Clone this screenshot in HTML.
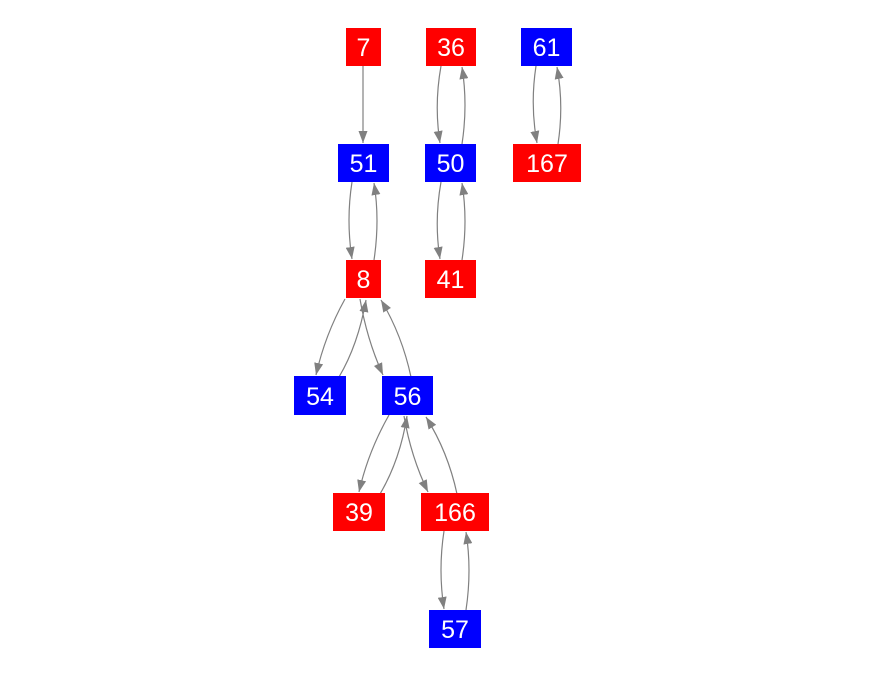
<!DOCTYPE html>
<html><head><style>
body{margin:0;background:#fff;}
svg{display:block;}
text{font-family:"Liberation Sans",Arial,sans-serif;font-size:25px;fill:#fff;text-anchor:middle;}
</style></head><body>
<svg width="875" height="675" viewBox="0 0 875 675" xmlns="http://www.w3.org/2000/svg">
<defs>
<marker id="a" viewBox="0 0 12 9" refX="12" refY="4.5" markerWidth="12" markerHeight="9" markerUnits="userSpaceOnUse" orient="auto">
<path d="M0,0 L12,4.5 L0,9 z" fill="#808080"/>
</marker>
</defs>
<g fill="none" stroke="#808080" stroke-width="1.2" marker-end="url(#a)">
<path d="M363,66 L363,143"/>
<path d="M352,182 Q346,220 352,259"/>
<path d="M374,260 Q380,220 374,183"/>
<path d="M441,66 Q434,105 440,143"/>
<path d="M462,144 Q468,105 462,67"/>
<path d="M441,182 Q434,221 440,259"/>
<path d="M462,260 Q468,221 462,183"/>
<path d="M536,66 Q530,105 537,143"/>
<path d="M558,144 Q564,105 557,67"/>
<path d="M345,299 Q325,335 316,375"/>
<path d="M339,377 Q358,345 366,300"/>
<path d="M360,299 Q367,340 383,375"/>
<path d="M411,377 Q402,335 381,300"/>
<path d="M389,415 Q368,452 359,492"/>
<path d="M380,494 Q400,460 407,416"/>
<path d="M404,416 Q411,457 428,492"/>
<path d="M457,494 Q448,452 426,417"/>
<path d="M444,531 Q438,570 444,609"/>
<path d="M466,610 Q472,570 466,532"/>
</g>
<g>
<rect x="346" y="28" width="35" height="38" fill="#f00"/><text x="363.5" y="56">7</text>
<rect x="426" y="28" width="50" height="38" fill="#f00"/><text x="451" y="56">36</text>
<rect x="521" y="28" width="51" height="38" fill="#00f"/><text x="546.5" y="56">61</text>
<rect x="338" y="144" width="51" height="38" fill="#00f"/><text x="363.5" y="172">51</text>
<rect x="425" y="144" width="51" height="38" fill="#00f"/><text x="450.5" y="172">50</text>
<rect x="513" y="144" width="68" height="38" fill="#f00"/><text x="547" y="172">167</text>
<rect x="346" y="260" width="35" height="38" fill="#f00"/><text x="363.5" y="288">8</text>
<rect x="425" y="260" width="51" height="38" fill="#f00"/><text x="450.5" y="288">41</text>
<rect x="294" y="376" width="52" height="39" fill="#00f"/><text x="320" y="405">54</text>
<rect x="382" y="376" width="51" height="39" fill="#00f"/><text x="407.5" y="405">56</text>
<rect x="333" y="493" width="52" height="38" fill="#f00"/><text x="359" y="521">39</text>
<rect x="421" y="493" width="68" height="38" fill="#f00"/><text x="455" y="521">166</text>
<rect x="429" y="610" width="52" height="38" fill="#00f"/><text x="455" y="638">57</text>
</g>
</svg>
</body></html>
